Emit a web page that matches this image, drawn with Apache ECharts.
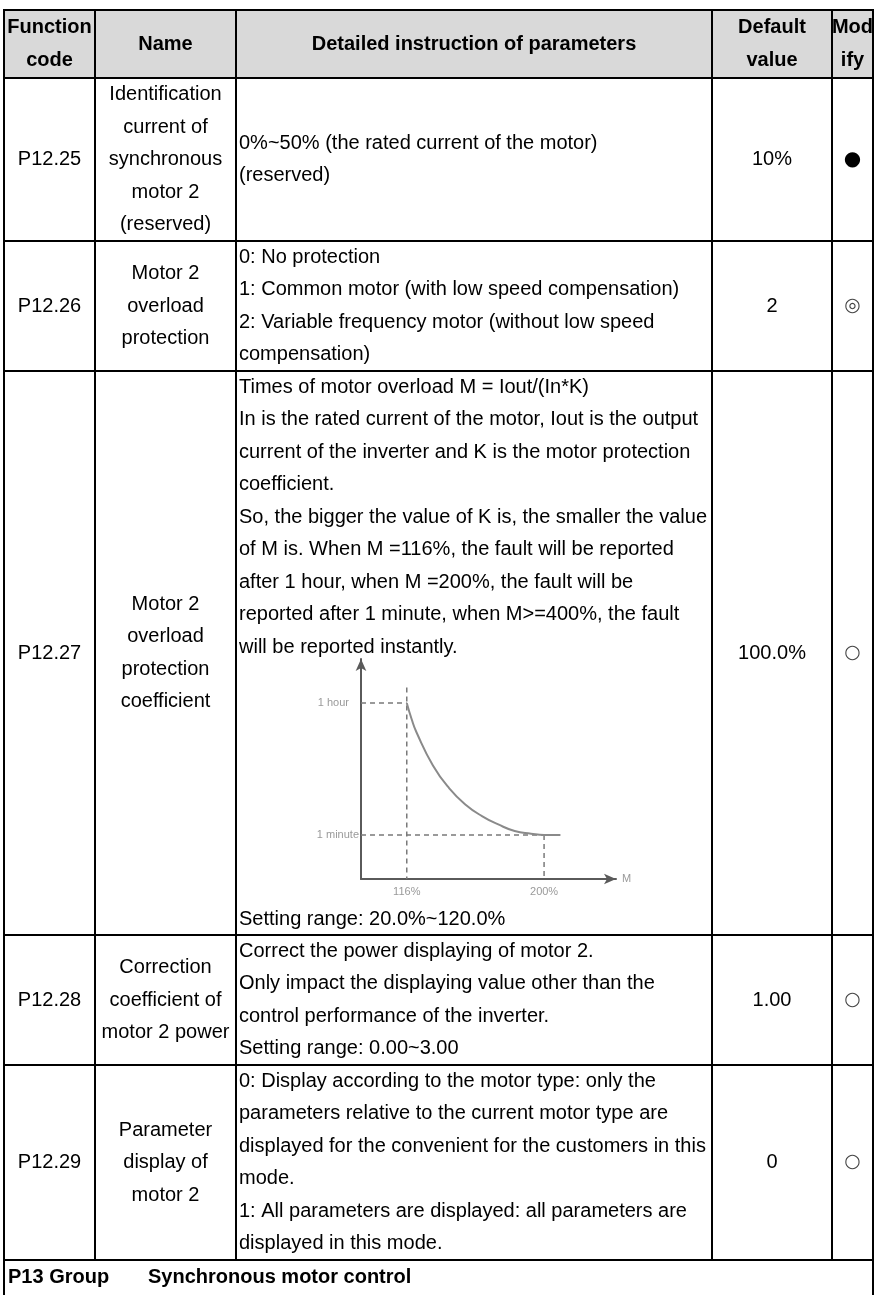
<!DOCTYPE html>
<html>
<head>
<meta charset="utf-8">
<script src="https://cdn.jsdelivr.net/npm/echarts@6/dist/echarts.min.js"></script>
<style>
  html, body { margin: 0; padding: 0; background: #fff; }
  #main { width: 878px; height: 1295px; }
</style>
</head>
<body>
<div id="main"></div>
<script>
// ---- table content ----
const headTitles = [['Function', 'code'], ['Name'], ['Detailed instruction of parameters'], ['Default', 'value'], ['Mod', 'ify']];
const codes = ['P12.25', 'P12.26', 'P12.27', 'P12.28', 'P12.29'];
const names = [
  ['Identification', 'current of', 'synchronous', 'motor 2', '(reserved)'],
  ['Motor 2', 'overload', 'protection'],
  ['Motor 2', 'overload', 'protection', 'coefficient'],
  ['Correction', 'coefficient of', 'motor 2 power'],
  ['Parameter', 'display of', 'motor 2']
];
const details = [
  ['0%~50% (the rated current of the motor)', '(reserved)'],
  ['0: No protection', '1: Common motor (with low speed compensation)', '2: Variable frequency motor (without low speed', 'compensation)'],
  ['Times of motor overload M = Iout/(In*K)',
   'In is the rated current of the motor, Iout is the output',
   'current of the inverter and K is the motor protection',
   'coefficient.',
   'So, the bigger the value of K is, the smaller the value',
   'of M is. When M =116%, the fault will be reported',
   'after 1 hour, when M =200%, the fault will be',
   'reported after 1 minute, when M>=400%, the fault',
   'will be reported instantly.'],
  ['Correct the power displaying of motor 2.', 'Only impact the displaying value other than the', 'control performance of the inverter.', 'Setting range: 0.00~3.00'],
  ['0: Display according to the motor type: only the', 'parameters relative to the current motor type are', 'displayed for the convenient for the customers in this', 'mode.', '1: All parameters are displayed: all parameters are', 'displayed in this mode.']
];
const chartFooter = 'Setting range: 20.0%~120.0%';
const defaults = ['10%', '2', '100.0%', '1.00', '0'];
const modifies = ['\u25CF', '\u25CE', '\u25CB', '\u25CB', '\u25CB'];
const groupTitle = ['P13 Group', 'Synchronous motor control'];

// ---- overload curve (M in %, time level: 1 = 1 minute, 4 = 1 hour) ----
const curveM = [116, 119, 122, 132, 142, 152, 162, 172, 182, 192, 200, 210];
const curveT = [4.0, 3.63, 3.33, 2.58, 2.06, 1.69, 1.43, 1.24, 1.09, 1.03, 1.0, 1.0];
const hourT = 4, minuteT = 1;
const markM = [116, 200];
const xLabels = { 116: '116%', 200: '200%' };
const yLabels = { 1: '1 minute', 4: '{h|1 hour}' };

// ---- layout ----
const colX = [4, 95, 236, 712, 832, 873];
const rowY = [10, 78, 241, 371, 935, 1065, 1260];
const H = 1295;
const LH = 32.5;
const FONT = '"Liberation Sans", Arial, sans-serif';
const txt = (s, x, y, align, bold, extra) => ({
  type: 'text', z: 10,
  style: Object.assign({
    text: s, x: x, y: y, fill: '#000',
    font: (bold ? 'bold ' : '') + '20px ' + FONT,
    align: align, verticalAlign: 'middle',
    textAlign: align, textVerticalAlign: 'middle'
  }, extra || {})
});
const line = (x1, y1, x2, y2) => ({
  type: 'line', z: 20,
  shape: { x1: x1, y1: y1, x2: x2, y2: y2 },
  style: { stroke: '#000', lineWidth: 2 }
});
const colC = i => (colX[i] + colX[i + 1]) / 2;

const g = [];
g.push({ type: 'rect', z: 1, shape: { x: colX[0], y: rowY[0], width: colX[5] - colX[0], height: rowY[1] - rowY[0] }, style: { fill: '#d9d9d9' } });
// header
headTitles.forEach((lines, c) => {
  const mid = (rowY[0] + rowY[1]) / 2;
  lines.forEach((s, k) => g.push(txt(s, colC(c), mid + (k - (lines.length - 1) / 2) * LH, 'center', true)));
});
// body rows
codes.forEach((code, r) => {
  const top = rowY[r + 1], bot = rowY[r + 2], mid = (top + bot) / 2;
  g.push(txt(code, colC(0), mid, 'center'));
  names[r].forEach((s, k) => g.push(txt(s, colC(1), mid + (k - (names[r].length - 1) / 2) * LH, 'center')));
  const d = details[r];
  if (r === 0) {
    d.forEach((s, k) => g.push(txt(s, colX[2] + 3, mid + (k - (d.length - 1) / 2) * LH, 'left')));
  } else {
    d.forEach((s, k) => g.push(txt(s, colX[2] + 3, top + 16 + k * LH, 'left')));
  }
  if (r === 2) g.push(txt(chartFooter, colX[2] + 3, bot - 16, 'left'));
  g.push(txt(defaults[r], colC(3), mid, 'center'));
  g.push(txt(modifies[r], colC(4), mid, 'center', false,
    { font: (r === 0 ? '20px' : '19px') + ' "DejaVu Sans", sans-serif', fill: r === 0 ? '#000' : '#444' }));
});
g.push(txt(groupTitle[0], 8, rowY[6] + 17, 'left', true));
g.push(txt(groupTitle[1], 148, rowY[6] + 17, 'left', true));
// borders
rowY.forEach(y => g.push(line(colX[0] - 1, y, colX[5] + 1, y)));
g.push(line(colX[0], rowY[0], colX[0], H));
g.push(line(colX[5], rowY[0], colX[5], H));
for (let i = 1; i < 5; i++) g.push(line(colX[i], rowY[0], colX[i], rowY[6]));

// ---- chart ----
const chart = echarts.init(document.getElementById('main'));
const dashed = { color: '#7a7a7a', width: 1.5, type: [5, 4] };
const guide = (data) => ({ type: 'line', data: data, showSymbol: false, silent: true, lineStyle: dashed, z: 2 });
const axisLabelStyle = { color: '#9a9a9a', fontSize: 11, fontFamily: FONT };

chart.setOption({
  animation: false,
  graphic: { elements: g },
  grid: { left: 361, top: 659, width: 255, height: 220, outerBoundsMode: 'none' },
  xAxis: {
    type: 'value', min: 88, max: 244, interval: 4,
    name: 'M', nameGap: 6, nameTextStyle: axisLabelStyle,
    axisLine: { show: true, symbol: ['none', 'arrow'], symbolSize: [8, 12], lineStyle: { color: '#5a5a5a', width: 2 } },
    axisTick: { show: false }, splitLine: { show: false },
    axisLabel: Object.assign({ margin: 7, formatter: v => xLabels[v] || '' }, axisLabelStyle)
  },
  yAxis: {
    type: 'value', min: 0, max: 5, interval: 1,
    axisLine: { show: true, symbol: ['none', 'arrow'], symbolSize: [8, 12], lineStyle: { color: '#5a5a5a', width: 2 } },
    axisTick: { show: false }, splitLine: { show: false },
    axisLabel: Object.assign({
      margin: 2, formatter: v => yLabels[v] || '',
      rich: { h: { color: '#9a9a9a', fontSize: 11, fontFamily: FONT, padding: [0, 10, 0, 0] } }
    }, axisLabelStyle)
  },
  series: [
    guide([[88, hourT], [markM[0], hourT]]),
    guide([[markM[0], hourT + 0.35], [markM[0], 0]]),
    guide([[88, minuteT], [markM[1], minuteT]]),
    guide([[markM[1], minuteT], [markM[1], 0]]),
    {
      type: 'line', z: 3, showSymbol: false, smooth: 0.5,
      data: curveM.map((m, i) => [m, curveT[i]]),
      lineStyle: { color: '#8a8a8a', width: 2 }
    }
  ]
});
</script>
</body>
</html>
